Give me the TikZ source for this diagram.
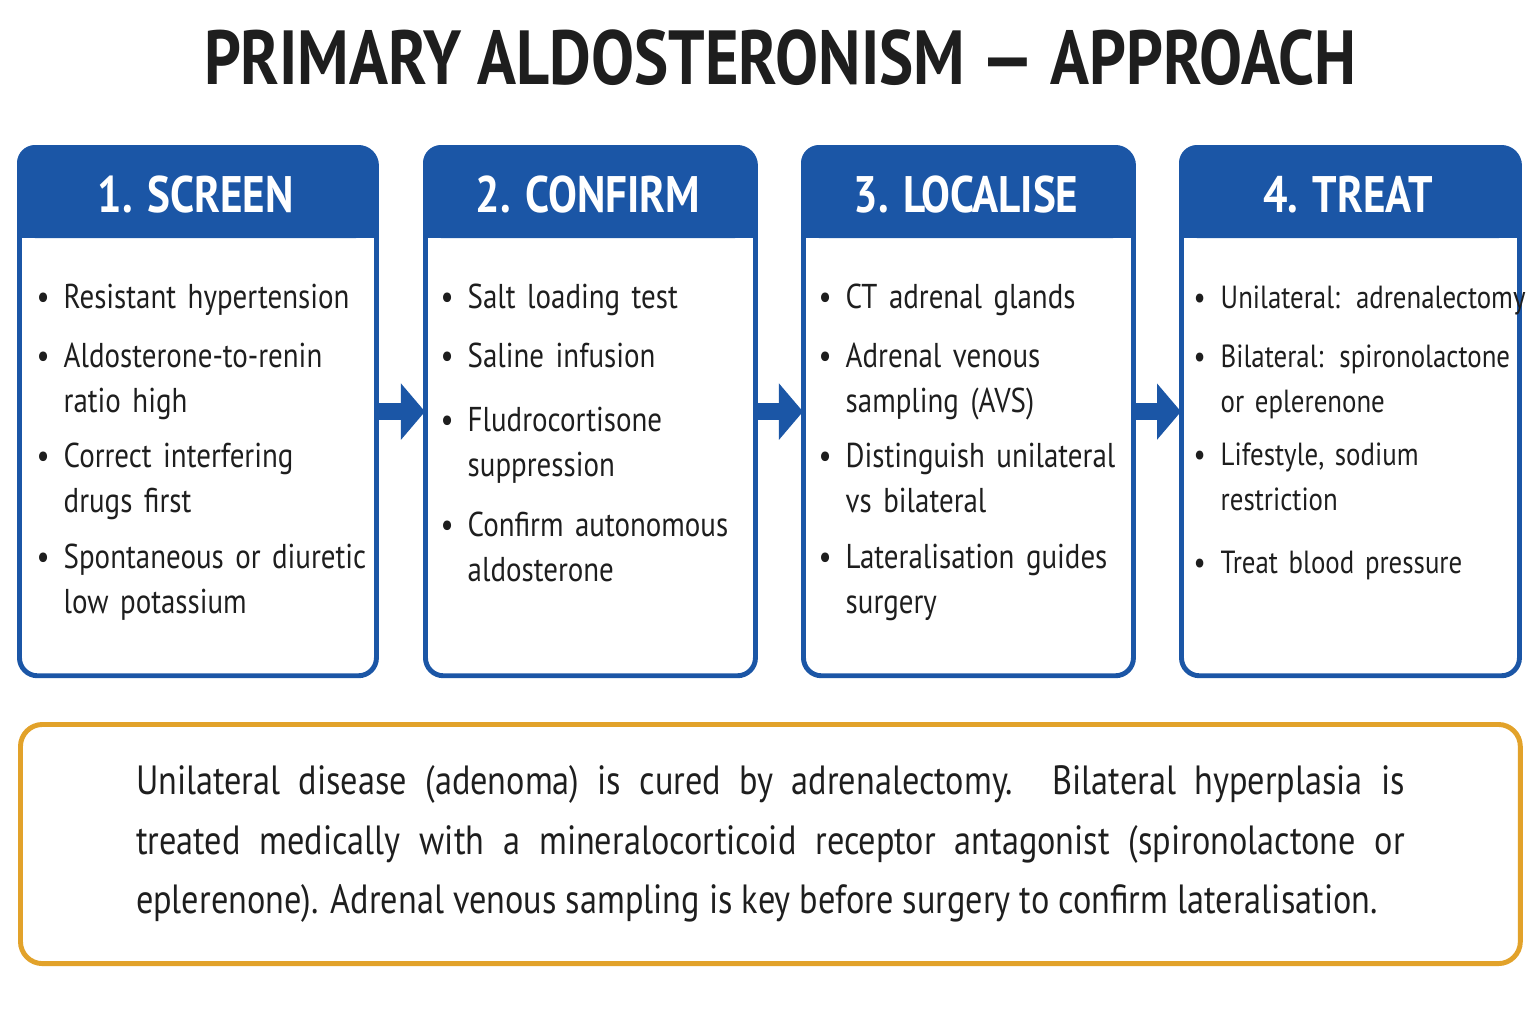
\documentclass[tikz,border=0pt]{standalone}
\usepackage{fontspec}
\setmainfont[FakeStretch=0.84]{PT Sans}
\usetikzlibrary{arrows.meta}
\definecolor{hdblue}{HTML}{1B56A6}
\definecolor{noteorange}{HTML}{E2A22A}
\definecolor{ink}{HTML}{1E1E1E}
\newcommand{\bitem}[1]{\noindent\makebox[0.27cm][l]{\textbullet}\parbox[t]{5cm}{\raggedright#1\strut}\par\vspace{0.14cm}}
\tikzset{
  stepbox/.style={draw=hdblue, line width=1.4pt, rounded corners=0.18cm, anchor=north west, inner sep=0pt},
  steptext/.style={anchor=north west, inner sep=0pt, text=ink, text width=3cm,
    font=\fontsize{9.8}{12.8}\selectfont},
  flow/.style={hdblue, line width=0.17cm, -{Triangle[length=0.24cm,width=0.55cm]}, shorten >=-0.02cm}
}
\begin{document}
\begin{tikzpicture}[x=0.01cm,y=-0.01cm]
\useasboundingbox (0,0) rectangle (1536,1024);
\node[font=\fontsize{21.8}{24}\selectfont\bfseries, text=ink] (title) at (780,58) {PRIMARY ALDOSTERONISM --- APPROACH};
% stage boxes
\foreach \name/\x/\w/\lbl in {s1/17/357/1. SCREEN, s2/423/330/2. CONFIRM, s3/801/330/3. LOCALISE, s4/1179/338/4. TREAT}{
  \node[stepbox, minimum width=\w*0.01cm, minimum height=5.28cm] (\name) at (\x,145) {};
  \fill[hdblue, rounded corners=0.18cm] (\x,145) rectangle (\x+\w,238);
  \fill[hdblue] (\x,200) rectangle (\x+\w,238);
  \node[text=white, font=\fontsize{14.6}{16}\selectfont\bfseries] (\name h) at (\x+\w/2,195) {\lbl};
}
\node[steptext] (t1) at (36,276) {%
  \bitem{Resistant hypertension}
  \bitem{Aldosterone-to-renin\\ratio high}
  \bitem{Correct interfering\\drugs first}
  \bitem{Spontaneous or diuretic\\low potassium}};
\node[steptext] (t2) at (440,276) {%
  \bitem{Salt loading test}
  \bitem{Saline infusion}\vspace{0.05cm}
  \bitem{Fludrocortisone\\suppression}\vspace{0.05cm}
  \bitem{Confirm autonomous\\aldosterone}};
\node[steptext] (t3) at (818,276) {%
  \bitem{CT adrenal glands}
  \bitem{Adrenal venous\\sampling (AVS)}
  \bitem{Distinguish unilateral\\vs bilateral}
  \bitem{Lateralisation guides\\surgery}};
\node[steptext, font=\fontsize{9.1}{12.8}\selectfont] (t4) at (1193,276) {%
  \bitem{Unilateral: adrenalectomy}
  \bitem{Bilateral: spironolactone\\or eplerenone}
  \bitem{Lifestyle, sodium\\restriction}
  \bitem{Treat blood pressure}};
% arrows between stages
\draw[flow] (s1.east) -- (s2.west);
\draw[flow] (s2.east) -- (s3.west);
\draw[flow] (s3.east) -- (s4.west);
% note
\node[draw=noteorange, line width=1.4pt, rounded corners=0.22cm, anchor=north west,
  minimum width=14.99cm, minimum height=2.39cm, inner sep=0pt] (note) at (18,722) {};
\node[text width=12.68cm, align=justify, text=ink, font=\fontsize{11.6}{17}\selectfont] (notetext) at (note.center)
 {Unilateral disease (adenoma) is cured by adrenalectomy. Bilateral hyperplasia is\linebreak treated medically with a mineralocorticoid receptor antagonist (spironolactone or\linebreak eplerenone). Adrenal venous sampling is key before surgery to confirm lateralisation.};
\end{tikzpicture}
\end{document}
